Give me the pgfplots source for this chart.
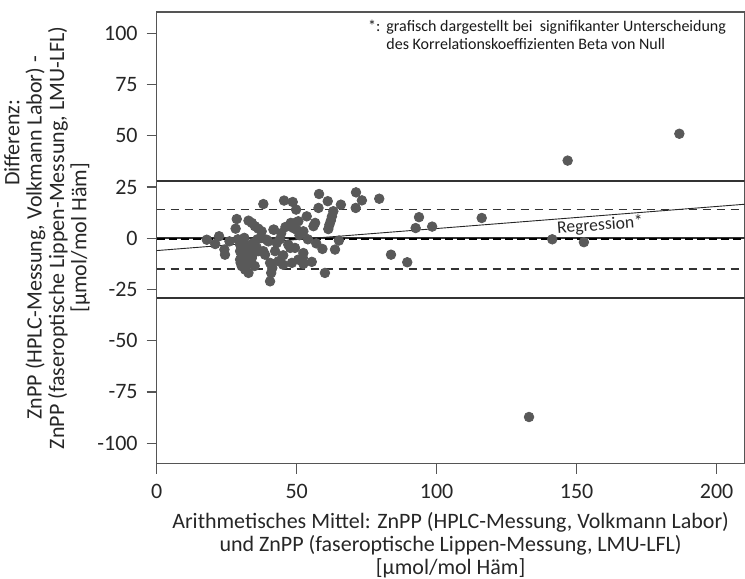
\documentclass[border=0pt]{standalone}
\usepackage{fontspec}
\setmainfont{Carlito}
\usepackage{pgfplots}
\pgfplotsset{compat=1.18}
\definecolor{dotc}{HTML}{595959}
\definecolor{axc}{HTML}{555555}
\begin{document}
\begin{tikzpicture}
\begin{axis}[
  at={(0,0)}, anchor=south west,
  scale only axis, width=294pt, height=226pt,
  xmin=0, xmax=210, ymin=-110, ymax=110.5,
  xtick={0,50,100,150,200},
  ytick={-100,-75,-50,-25,0,25,50,75,100},
  xtick pos=left, ytick pos=left, tick align=outside,
  major tick length=5pt,
  axis line style={axc, line width=0.7pt},
  every tick/.style={axc, line width=0.6pt},
  /pgf/number format/assume math mode=true,
  ticklabel style={font=\fontsize{11}{12}\selectfont, text=black!85},
  xticklabel style={yshift=-1.5pt},
  yticklabel style={xshift=-1pt},
  xlabel={Arithmetisches Mittel: ZnPP (HPLC-Messung, Volkmann Labor)\\und ZnPP (faseroptische Lippen-Messung, LMU-LFL)\\{[}µmol/mol Häm{]}},
  xlabel style={align=center, font=\fontsize{11}{11.4}\selectfont, text=black!85, at={(axis description cs:0.5,-0.18)}, anchor=center},
  ylabel={\hspace*{95pt}Differenz:\\ZnPP (HPLC-Messung, Volkmann Labor) -\\ZnPP (faseroptische Lippen-Messung, LMU-LFL)\\{[}µmol/mol Häm{]}},
  ylabel style={align=center, font=\fontsize{11}{11.2}\selectfont, text=black!85, at={(axis description cs:-0.1865,0.5)}, anchor=center, rotate=0},
  clip=true,
]
% limits of agreement and CI
\addplot[black!80, line width=1pt] coordinates {(0,28.1) (210,28.1)};
\addplot[black!80, line width=1pt] coordinates {(0,-29) (210,-29)};
\addplot[black!80, line width=0.55pt, dash pattern=on 4pt off 3pt] coordinates {(0,14.1) (210,14.1)};
\addplot[black!80, line width=0.55pt, dash pattern=on 4pt off 3pt] coordinates {(0,-15) (210,-15)};
\addplot[black!80, line width=1pt] coordinates {(0,0) (210,0)};
\addplot[black, line width=1pt, dash pattern=on 4pt off 2pt] coordinates {(0,-0.3) (210,-0.3)};
% regression
\addplot[black!85, line width=0.45pt] coordinates {(0,-6.0) (210,16.6)};
% data
\addplot[only marks, mark=*, mark size=2.4pt, mark options={fill=dotc, draw=dotc}] table {
x y
17.9 -0.7
20.9 -2.8
22.3 1.0
24.2 -5.5
24.4 -8.0
26.0 -1.5
28.6 9.4
28.2 4.7
32.8 8.6
34.0 7.5
35.1 5.9
36.3 4.7
37.5 3.4
38.1 16.7
41.9 4.2
31.3 0.2
29.8 -3.1
31.0 -4.7
29.8 -6.3
30.4 -8.8
29.8 -10.4
31.6 -11.2
31.6 -15.3
32.8 -16.9
30.4 -13.6
31.0 -1.5
32.0 -7.5
33.0 -12.5
29.0 -0.5
30.0 -12.0
34.5 -2.3
35.8 -4.7
34.5 -7.2
34.0 -9.6
36.3 -6.3
38.1 -6.3
38.7 -8.0
39.3 -0.7
39.9 -1.5
42.9 -2.3
42.3 -6.3
40.5 -12.0
41.3 -14.5
40.9 -16.9
40.5 -21.0
37.5 0.2
33.0 -3.5
36.0 -0.5
35.0 -13.5
41.7 4.2
45.5 18.4
48.6 17.7
49.8 14.0
58.0 21.6
61.1 18.1
57.8 14.8
65.8 16.4
71.2 22.4
73.3 18.5
71.1 14.8
79.5 19.3
53.6 10.7
63.1 13.2
62.6 10.7
62.2 8.6
61.7 6.6
61.3 4.5
56.6 7.5
56.0 5.9
47.9 7.5
49.4 7.5
50.6 8.3
48.8 5.0
50.0 4.2
52.4 3.4
46.0 5.5
44.5 2.5
51.0 1.5
47.0 -3.1
47.7 -4.7
49.4 -4.7
52.4 -7.2
52.2 -9.6
59.2 -5.2
63.7 -5.5
65.1 -1.1
50.6 -10.4
52.4 -12.5
55.4 -11.5
60.1 -16.9
45.2 -8.3
43.5 -11.2
45.2 -12.9
48.3 -12.0
44.0 -0.5
54.0 -0.5
57.0 -2.5
83.7 -8.0
89.5 -11.7
93.7 10.3
92.5 5.0
98.4 5.7
116.1 9.9
141.3 -0.5
152.6 -1.9
146.8 37.9
186.7 51.0
133.0 -87.2
};
\node[rotate=4.5, font=\fontsize{8.8}{10}\selectfont, text=black!85] at (axis cs:158.4,6.2) {Regression*};
\node[anchor=north west, inner sep=0pt, font=\fontsize{8}{9}\selectfont, text=black!90] at (rel axis cs:0.359,0.985)
  {\begin{tabular}{@{}l@{\hspace{3pt}}l@{}}*: & grafisch dargestellt bei\ \ signifikanter Unterscheidung\\ & des Korrelationskoeffizienten Beta von Null\end{tabular}};
\end{axis}
\pgfresetboundingbox
\useasboundingbox (-78.35pt,-57.6pt) rectangle (294.2pt,231.9pt);
\end{tikzpicture}
\end{document}
